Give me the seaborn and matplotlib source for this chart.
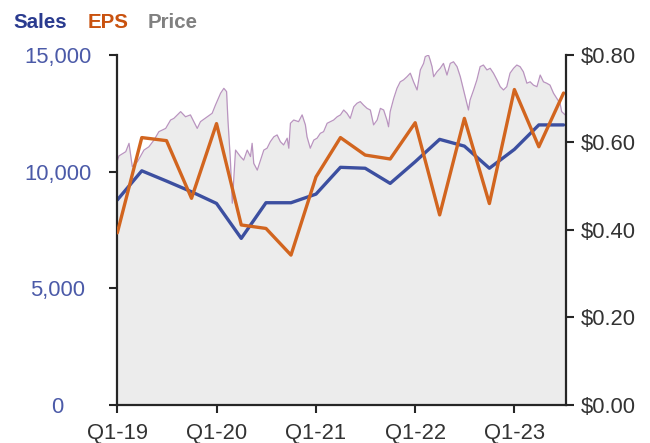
import pandas as pd
import seaborn as sns
import matplotlib.pyplot as plt
import matplotlib.dates as mdates

# quarterly figures (quarter start dates)
quarters = pd.date_range('2019-01-01', periods=19, freq='QS')
sales = [8780, 10030, 9590, 9130, 8630, 7130, 8660, 8660, 9030, 10180,
         10140, 9490, 10420, 11380, 11090, 10140, 10950, 12000, 12000]
eps = [0.393, 0.611, 0.604, 0.472, 0.643, 0.411, 0.403, 0.342, 0.521, 0.611,
       0.571, 0.562, 0.645, 0.434, 0.655, 0.460, 0.721, 0.590, 0.713]

# share price, days since 2019-01-01
price_day = [1, 6, 31, 43, 55, 74, 98, 116, 135, 153, 178, 196, 208, 233, 251, 269,
             294, 306, 331, 349, 361, 380, 392, 402, 407, 416, 423, 435, 453, 465,
             478, 490, 496, 502, 515, 527, 539, 551, 563, 576, 588, 600, 612, 625,
             631, 637, 649, 667, 680, 692, 698, 710, 723, 735, 747, 759, 772, 784,
             796, 809, 821, 833, 845, 857, 870, 882, 894, 906, 919, 931, 943, 956,
             968, 980, 992, 998, 1004, 1017, 1029, 1041, 1053, 1066, 1078, 1090,
             1103, 1115, 1127, 1133, 1145, 1151, 1158, 1164, 1176, 1188, 1200, 1213,
             1225, 1237, 1250, 1262, 1274, 1286, 1292, 1298, 1311, 1323, 1335, 1347,
             1360, 1372, 1384, 1397, 1409, 1421, 1433, 1445, 1458, 1470, 1482, 1494,
             1507, 1519, 1531, 1544, 1556, 1568, 1580, 1592, 1605, 1617, 1629, 1635,
             1648]
price = [104.9, 106.7, 108.5, 112.1, 102.1, 104.2, 109.2, 110.6, 113.5, 117.1, 118.5,
         122.1, 122.8, 125.7, 123.5, 124.3, 118.5, 121.4, 123.5, 125.0, 128.5, 133.6,
         135.7, 134.3, 122.1, 104.9, 86.4, 109.2, 106.4, 104.9, 109.2, 106.4, 112.1,
         103.5, 100.6, 104.9, 109.2, 110.0, 112.8, 114.9, 115.7, 112.8, 111.4, 114.3,
         110.0, 120.7, 122.1, 121.4, 124.3, 120.0, 114.9, 110.0, 113.5, 114.3, 116.4,
         117.1, 120.7, 121.4, 122.1, 123.5, 124.3, 126.4, 125.0, 122.8, 127.8, 129.3,
         130.0, 128.5, 127.1, 126.4, 120.0, 122.1, 127.1, 126.4, 122.1, 119.2, 125.7,
         131.4, 135.7, 138.5, 139.3, 140.7, 142.2, 138.5, 135.0, 143.6, 146.4, 149.3,
         150.0, 147.9, 145.0, 140.7, 142.8, 144.3, 146.4, 141.4, 146.4, 147.1, 145.0,
         140.7, 135.0, 129.3, 126.4, 130.7, 135.0, 139.3, 145.0, 145.7, 143.6, 144.3,
         142.2, 139.3, 136.4, 135.0, 136.4, 142.2, 144.3, 145.7, 145.0, 142.8, 137.9,
         138.5, 137.1, 136.4, 141.4, 138.5, 137.9, 137.1, 133.6, 131.4, 129.3, 125.7,
         124.3]

sales_ticks = [0, 5000, 10000, 15000]
sales_labels = ['0', '5,000', '10,000', '15,000']
eps_ticks = [0, 0.2, 0.4, 0.6, 0.8]
eps_labels = ['\\$0.00', '\\$0.20', '\\$0.40', '\\$0.60', '\\$0.80']

sns.set_style('ticks')
plt.rcParams['font.family'] = ['Liberation Sans', 'DejaVu Sans']

df_q = pd.DataFrame({'date': quarters, 'sales': sales, 'eps': eps})
df_p = pd.DataFrame({'date': pd.Timestamp('2019-01-01') + pd.to_timedelta(price_day, unit='D'),
                     'price': price})

fig = plt.figure(figsize=(6.5, 4.43), dpi=100)
ax_price = fig.add_axes([0.1805, 0.0869, 0.6903, 0.7889])
ax_sales = ax_price.twinx()
ax_eps = ax_price.twinx()

# price area in the background
ax_price.fill_between(df_p['date'], df_p['price'], 0, color='#ececec', lw=0)
sns.lineplot(data=df_p, x='date', y='price', ax=ax_price, color='#b994bf', lw=0.9)
ax_price.set_ylim(0, 150)
ax_price.set_yticks([])

sns.lineplot(data=df_q, x='date', y='sales', ax=ax_sales, color='#3c4fa0', lw=2.4)
sns.lineplot(data=df_q, x='date', y='eps', ax=ax_eps, color='#d2651f', lw=2.4)

ax_sales.yaxis.tick_left()
ax_sales.set_ylim(0, 15000)
ax_sales.set_yticks(sales_ticks, labels=sales_labels, ha='center')
ax_sales.tick_params(axis='y', labelsize=15.8, labelcolor='#4b5aa8', length=5.5,
                     width=1.5, pad=37.5)

ax_eps.set_ylim(0, 0.8)
ax_eps.set_yticks(eps_ticks, labels=eps_labels)
ax_eps.tick_params(axis='y', labelsize=15.8, labelcolor='#333333', length=6,
                   width=1.5, pad=5)

for a in (ax_price, ax_sales, ax_eps):
    a.set_xlabel('')
    a.set_ylabel('')
    a.spines['top'].set_visible(False)
    for s in a.spines.values():
        s.set_linewidth(1.6)
ax_price.spines['left'].set_visible(False)
ax_price.spines['right'].set_visible(False)
ax_sales.spines['right'].set_visible(False)
ax_sales.spines['bottom'].set_visible(False)
ax_eps.spines['left'].set_visible(False)
ax_eps.spines['bottom'].set_visible(False)

ax_price.set_xlim(pd.Timestamp('2019-01-01'), pd.Timestamp('2023-07-10'))
ax_price.xaxis.set_major_locator(mdates.YearLocator())
ax_price.xaxis.set_major_formatter(mdates.DateFormatter('Q1-%y'))
ax_price.tick_params(axis='x', labelsize=15.8, labelcolor='#333333', length=5.5,
                     width=1.5, pad=8)

# coloured header acting as legend
fig.text(0.020, 0.9368, 'Sales', color='#2a3b8f', fontsize=14.8, fontweight='bold')
fig.text(0.1354, 0.9368, 'EPS', color='#c9520f', fontsize=14.8, fontweight='bold')
fig.text(0.2277, 0.9368, 'Price', color='#808080', fontsize=14.8, fontweight='bold')

fig.savefig('out.png', dpi=100)
